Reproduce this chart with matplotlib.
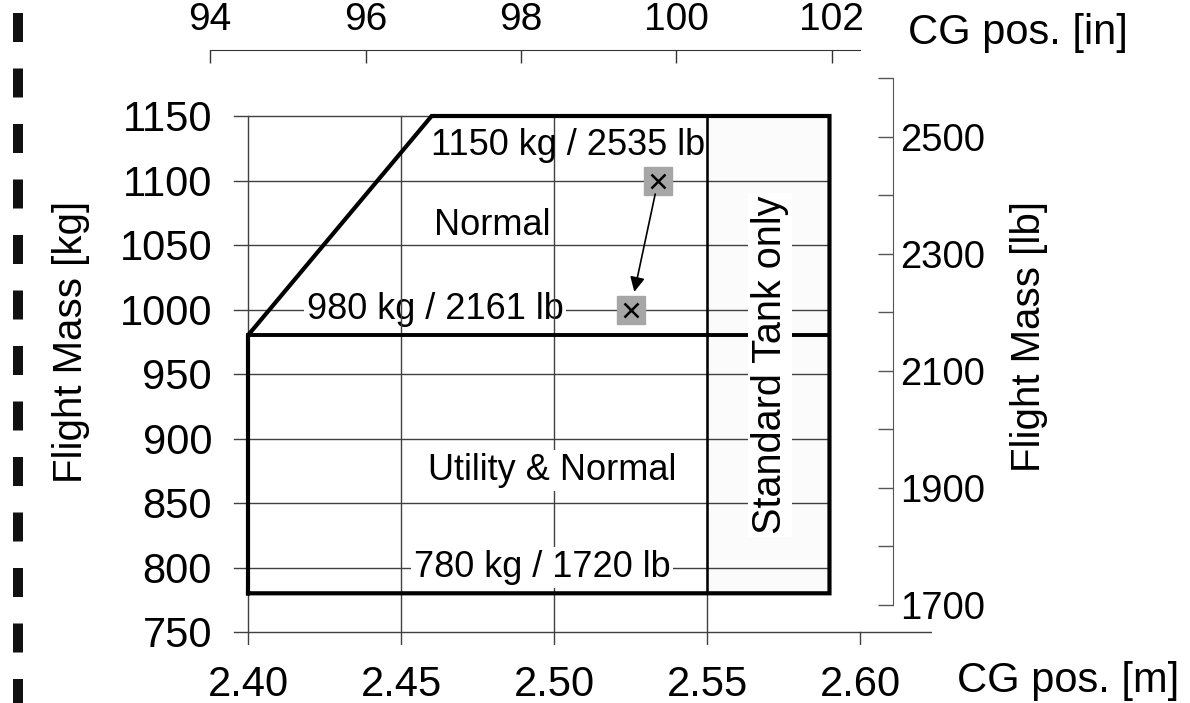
import matplotlib
matplotlib.use("Agg")
import matplotlib.pyplot as plt
from matplotlib.lines import Line2D

plt.rcParams['font.family'] = ['Liberation Sans', 'DejaVu Sans']

# ---------------- DATA ----------------
cg_ticks_m = [2.40, 2.45, 2.50, 2.55, 2.60]
mass_ticks_kg = [750, 800, 850, 900, 950, 1000, 1050, 1100, 1150]
cg_ticks_in = [94, 96, 98, 100, 102]
mass_ticks_lb = [1700, 1900, 2100, 2300, 2500]
mass_minor_lb = [1800, 2000, 2200, 2400, 2600]

# envelope corners (CG [m], mass [kg])
env_cg = [2.40, 2.40, 2.46, 2.59, 2.59, 2.40]
env_mass = [780, 980, 1150, 1150, 780, 780]
utility_limit_kg = 980
min_mass_kg = 780
max_mass_kg = 1150
tank_only_cg = 2.55

# loading example: start -> end
load_cg = [2.534, 2.525]
load_mass = [1100, 1000]

M_PER_IN = 0.0254
LB_PER_KG = 2.20462

# ---------------- FIGURE ----------------
fig = plt.figure(figsize=(11.9, 7.03), dpi=100)
ax = fig.add_axes([202.1 / 1190, 58.1 / 703, 729.9 / 1190, 567.6 / 703])
ax.set_xlim(2.385, 2.6235)
ax.set_ylim(740, 1180)
for s in ax.spines.values():
    s.set_visible(False)

x_right = ax.get_xlim()[1]
stub_x = 2.3954     # where the grid stubs start on the left
stub_y = 740        # and where they end below
env_right = max(env_cg)
grid_col = '#404040'

# grid lines (stubs sticking out to the left / below)
for m in mass_ticks_kg:
    x_end = x_right if m == mass_ticks_kg[0] else env_right
    ax.plot([stub_x, x_end], [m, m], color=grid_col, lw=1.0, zorder=1)
for c in cg_ticks_m:
    y_top = mass_ticks_kg[0] if c == cg_ticks_m[-1] else max_mass_kg
    ax.plot([c, c], [stub_y, y_top], color=grid_col, lw=1.0, zorder=2.5)

# standard tank region
ax.fill_between([tank_only_cg, env_right], min_mass_kg, max_mass_kg,
                color='#fbfbfb', zorder=0)
ax.plot([tank_only_cg, tank_only_cg], [min_mass_kg, max_mass_kg],
        color='black', lw=1.8, zorder=4)

# envelope
ax.plot(env_cg, env_mass, color='black', lw=3, zorder=5,
        solid_joinstyle='miter')
ax.plot([min(env_cg), env_right], [utility_limit_kg, utility_limit_kg],
        color='black', lw=2.8, zorder=5)

# texts
box = dict(fc='white', ec='none', pad=2)
ax.text(2.5046, 1127.5, '1150 kg / 2535 lb', fontsize=26,
        ha='center', va='center', zorder=3)
ax.text(2.4797, 1065.5, 'Normal', fontsize=26, ha='center', va='center',
        zorder=3)
ax.text(2.4611, 1000, '980 kg / 2161 lb', fontsize=26, ha='center',
        va='center', bbox=box, zorder=2)
ax.text(2.4993, 875, 'Utility & Normal', fontsize=26, ha='center',
        va='center', bbox=box, zorder=3)
ax.text(2.4961, 800, '780 kg / 1720 lb', fontsize=26, ha='center',
        va='center', bbox=box, zorder=3)
ax.text(2.5706, 957, 'Standard Tank only', fontsize=28.5, rotation=90,
        ha='center', va='center', bbox=box, zorder=6)

# loading example markers + arrow
ax.plot(load_cg, load_mass, 's', color='#a6a6a6', ms=20, zorder=6)
ax.plot(load_cg, load_mass, 'x', color='black', ms=10, mew=1.8, zorder=7)
ax.annotate('', xy=(load_cg[1], load_mass[1]),
            xytext=(load_cg[0], load_mass[0]),
            arrowprops=dict(arrowstyle='-|>', color='black', lw=1.2,
                            mutation_scale=22, shrinkA=10, shrinkB=13),
            zorder=7)

# bottom / left ticks
ax.set_xticks(cg_ticks_m, labels=[f'{c:.2f}' for c in cg_ticks_m])
ax.set_yticks(mass_ticks_kg, labels=[str(m) for m in mass_ticks_kg])
ax.tick_params(axis='x', length=0, pad=14.4, labelsize=30)
ax.tick_params(axis='y', length=0, pad=-7.2, labelsize=30)

# top axis in inches
top = ax.secondary_xaxis(1.048, functions=(lambda m: m / M_PER_IN,
                                           lambda i: i * M_PER_IN))
top.set_xticks(cg_ticks_in, labels=[str(i) for i in cg_ticks_in])
top.tick_params(direction='in', length=9.4, width=1, color='#333333',
                labelsize=28, pad=8.6)
top.spines['top'].set_bounds(cg_ticks_in[0], cg_ticks_m[-1] / M_PER_IN)
top.spines['top'].set_color('#333333')

# right axis in pounds
right = ax.secondary_yaxis((893 - 202.1) / 729.9,
                           functions=(lambda kg: kg * LB_PER_KG,
                                      lambda lb: lb / LB_PER_KG))
right.set_yticks(mass_ticks_lb, labels=[str(v) for v in mass_ticks_lb])
right.set_yticks(mass_minor_lb, minor=True)
right.tick_params(which='both', direction='in', length=10.5, width=1,
                  color='#555555', labelsize=27.5, pad=5)
right.spines['right'].set_bounds(mass_ticks_lb[0], mass_minor_lb[-1])
right.spines['right'].set_color('#555555')

# axis titles
fig.text(71 / 1190, 1 - 342 / 703, 'Flight Mass [kg]', rotation=90,
         ha='center', va='center', fontsize=29)
fig.text(1029 / 1190, 1 - 337 / 703, 'Flight Mass [lb]', rotation=90,
         ha='center', va='center', fontsize=29)
fig.text(957 / 1190, 1 - 692 / 703, 'CG pos. [m]', ha='left',
         va='baseline', fontsize=30)
fig.text(908 / 1190, 1 - 44 / 703, 'CG pos. [in]', ha='left',
         va='baseline', fontsize=30)

# scanned page edge on the left
edge = Line2D([18 / 1190, 18 / 1190], [1 - 13 / 703, 0],
              transform=fig.transFigure, color='#111111', lw=7.2,
              solid_capstyle='butt', dash_capstyle='butt')
edge.set_dashes([2.9, 2.65])
fig.add_artist(edge)

fig.savefig('out.png', dpi=100)
